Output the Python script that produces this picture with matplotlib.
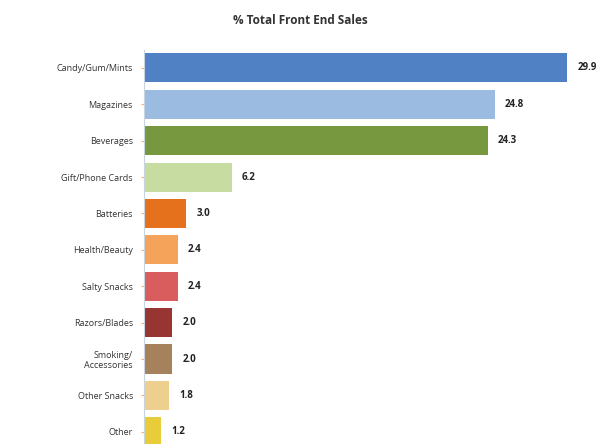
import matplotlib.pyplot as plt

# data
categories = ['Candy/Gum/Mints', 'Magazines', 'Beverages', 'Gift/Phone Cards',
              'Batteries', 'Health/Beauty', 'Salty Snacks', 'Razors/Blades',
              'Smoking/\nAccessories', 'Other Snacks', 'Other']
values = [29.9, 24.8, 24.3, 6.2, 3.0, 2.4, 2.4, 2.0, 2.0, 1.8, 1.2]
colors = ['#4f81c4', '#9bbbe0', '#77983e', '#c6dca0', '#e5711c', '#f5a25a',
          '#d95d5d', '#973533', '#a5825c', '#edd08e', '#e8cc3a']

plt.rcParams['font.family'] = ['Open Sans', 'DejaVu Sans']

fig = plt.figure(figsize=(6.11, 4.44), dpi=100)
ax = fig.add_axes([144 / 611, 0.0, (600 - 144) / 611, 0.888])

y = list(range(len(categories)))
ax.barh(y, values, height=0.8, color=colors)
for yi, v in zip(y, values):
    ax.text(v + 0.7, yi, f'{v:.1f}', va='center', ha='left',
            fontsize=7, fontweight='bold', color='#222222')

ax.set_yticks(y)
ax.set_yticklabels(categories, fontsize=6.5, color='#333333', linespacing=1.1)
ax.set_ylim(10.335, -0.5)
ax.set_xlim(0, 32.2)
ax.set_xticks([])
for s in ['top', 'right', 'bottom']:
    ax.spines[s].set_visible(False)
ax.spines['left'].set_color('#c8d4e0')
ax.tick_params(axis='y', length=2, color='#f0b080', pad=6)

fig.text(300 / 611, 1 - 20 / 444, '% Total Front End Sales', ha='center', va='center',
         fontsize=8.5, fontweight='bold', color='#333333')

fig.savefig('out.png', dpi=100)
